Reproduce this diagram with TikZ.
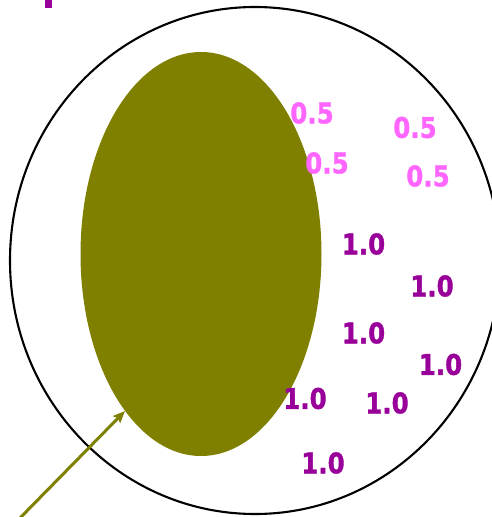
\documentclass[tikz,border=0pt]{standalone}
\usepackage{fontspec}
\newfontfamily\lblfont[FakeStretch=0.86,FakeBold=1.2]{DejaVu Sans}
\usetikzlibrary{arrows.meta}
\definecolor{olivefill}{HTML}{808000}
\definecolor{pinklbl}{HTML}{FF66FF}
\definecolor{purplelbl}{HTML}{990099}
\tikzset{
  lbl/.style={inner sep=0pt, font=\lblfont\bfseries\fontsize{28.5}{31}\selectfont},
  half/.style={lbl, text=pinklbl},
  one/.style={lbl, text=purplelbl},
}
\begin{document}
\begin{tikzpicture}[x=1pt,y=-1pt]
\useasboundingbox (0,0) rectangle (492,517);
% fragment of cut-off title letter
\fill[purplelbl] (45,0) rectangle (52,8);
% outer ellipse
\draw[line width=2.1pt] (255,260.5) ellipse [x radius=245, y radius=253.5];
% inner olive ellipse
\fill[olivefill] (201,254) ellipse [x radius=120.5, y radius=202];
\coordinate (inner) at (125,411);
\coordinate (tail) at (20,518);
\draw[olivefill, line width=3pt, -{Stealth[length=12pt,width=10pt,inset=2pt]}] (tail) -- (inner);
% labels
\node[half] (h1) at (312,113) {0.5};
\node[half] (h2) at (327,163) {0.5};
\node[half] (h3) at (415,127.5) {0.5};
\node[half] (h4) at (428,176) {0.5};
\node[one] (o1) at (363.5,244) {1.0};
\node[one] (o2) at (432,286) {1.0};
\node[one] (o3) at (363.5,333) {1.0};
\node[one] (o4) at (440.5,364.5) {1.0};
\node[one] (o5) at (305,398.5) {1.0};
\node[one] (o6) at (387,403) {1.0};
\node[one] (o7) at (323,463) {1.0};
\end{tikzpicture}
\end{document}
